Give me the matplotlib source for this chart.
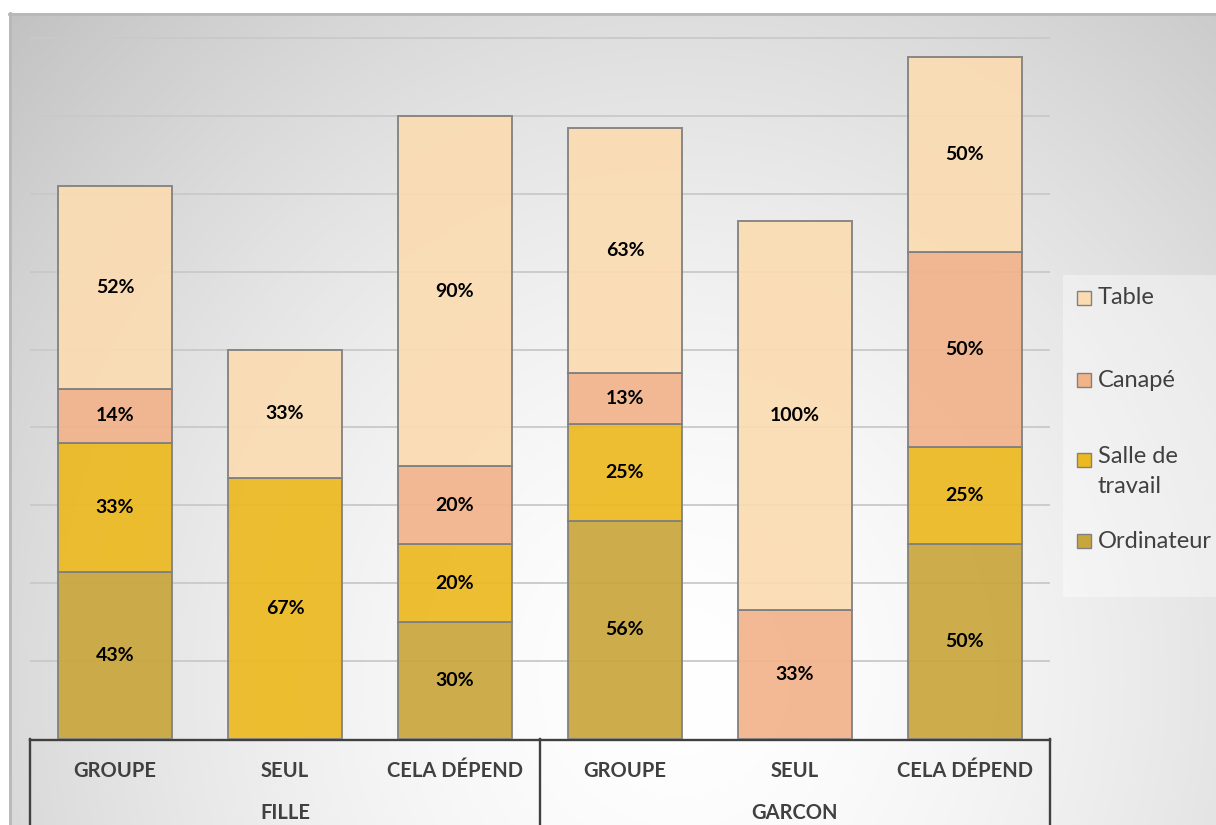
import numpy as np
import matplotlib.pyplot as plt
from matplotlib.patches import Rectangle

plt.rcParams['font.family'] = ['Lato', 'DejaVu Sans']

# data
categories = ["GROUPE", "SEUL", "CELA DÉPEND", "GROUPE", "SEUL", "CELA DÉPEND"]
groups = ["FILLE", "GARCON"]
ordinateur = [43, 0, 30, 56, 0, 50]
salle = [33, 67, 20, 25, 0, 25]
canape = [14, 0, 20, 13, 33, 50]
table = [52, 33, 90, 63, 100, 50]

series = [("Ordinateur", ordinateur, "#c9a63c"),
          ("Salle de\ntravail", salle, "#edb920"),
          ("Canapé", canape, "#f2b38b"),
          ("Table", table, "#fbdcb2")]

W, H = 1216, 825
fig = plt.figure(figsize=(W / 100, H / 100), dpi=100)


def fx(x):
    return x / W


def fy(y):
    return 1 - y / H


# background: white outside, radial grey gradient inside chart area
bg = fig.add_axes([0, 0, 1, 1], zorder=-10)
bg.set_xlim(0, W)
bg.set_ylim(H, 0)
bg.axis("off")
xx, yy = np.meshgrid(np.arange(W), np.arange(H))
d = np.sqrt(((xx - 680) / 1.0) ** 2 + ((yy - 680) / 1.05) ** 2) / 930.0
val = np.clip(255 - 62 * d ** 1.6, 188, 255) / 255.0
img = np.dstack([val, val, val])
img[:13, :, :] = 1.0
img[:, :9, :] = 1.0
bg.imshow(img, extent=(0, W, H, 0), aspect="auto", interpolation="bilinear")
bg.plot([9, W], [13.5, 13.5], color="#b8b8b8", lw=2)
bg.plot([9.5, 9.5], [13, H], color="#b8b8b8", lw=2)
# legend background
bg.add_patch(Rectangle((1063, 275), 200, 322, facecolor="white", alpha=0.38, edgecolor="none"))

# main axes
base, top = 739, 14
scale = (739 - 38) / 180.0
ax = fig.add_axes([fx(30), fy(base), fx(1050) - fx(30), (base - top) / H])
ax.set_xlim(-0.5, 5.5)
ax.set_ylim(0, (base - top) / scale)
ax.patch.set_visible(False)
for s in ax.spines.values():
    s.set_visible(False)
ax.set_xticks([])
ax.set_yticks([])

for g in range(20, 181, 20):
    ax.axhline(g, color="#c9c9c9", lw=1.3, zorder=1)

x = np.arange(len(categories))
bottom = np.zeros(len(categories))
for name, vals, col in series:
    vals = np.array(vals, dtype=float)
    for i in range(len(x)):
        if vals[i] == 0:
            continue
        ax.bar(x[i], vals[i], bottom=bottom[i], width=0.67, color=col, alpha=0.92,
               edgecolor="#808080", linewidth=1.4, zorder=2)
        ax.text(x[i], bottom[i] + vals[i] / 2, "%d%%" % vals[i], ha="center", va="center",
                fontsize=14, fontweight="bold", color="black", zorder=3)
    bottom += vals

# category table below the bars
tl = dict(color="#404040", lw=1.7)
bg.plot([30, 1050], [739.5, 739.5], **tl)
for xv in [30, 540, 1050]:
    bg.plot([xv, xv], [739, H], **tl)

centers = [115, 285, 455, 625, 795, 965]
for c, lab in zip(centers, categories):
    fig.text(fx(c), fy(771), lab, ha="center", va="center", fontsize=14.5,
             fontweight="bold", color="#404040")
for c, lab in zip([285, 795], groups):
    fig.text(fx(c), fy(813), lab, ha="center", va="center", fontsize=14.5,
             fontweight="bold", color="#404040")

# legend drawn by hand
leg_y = {"Table": 298, "Canapé": 380, "Salle de\ntravail": 460, "Ordinateur": 541}
for name, vals, col in series:
    y = leg_y[name]
    bg.add_patch(Rectangle((1077, y - 7), 14, 14, facecolor=col, edgecolor="#808080", lw=1))
    if "\n" in name:
        fig.text(fx(1098), fy(y - 14), name, ha="left", va="top", fontsize=17,
                 color="#404040", linespacing=1.5)
    else:
        fig.text(fx(1098), fy(y), name, ha="left", va="center", fontsize=17,
                 color="#404040")

fig.savefig("out.png", dpi=100)
